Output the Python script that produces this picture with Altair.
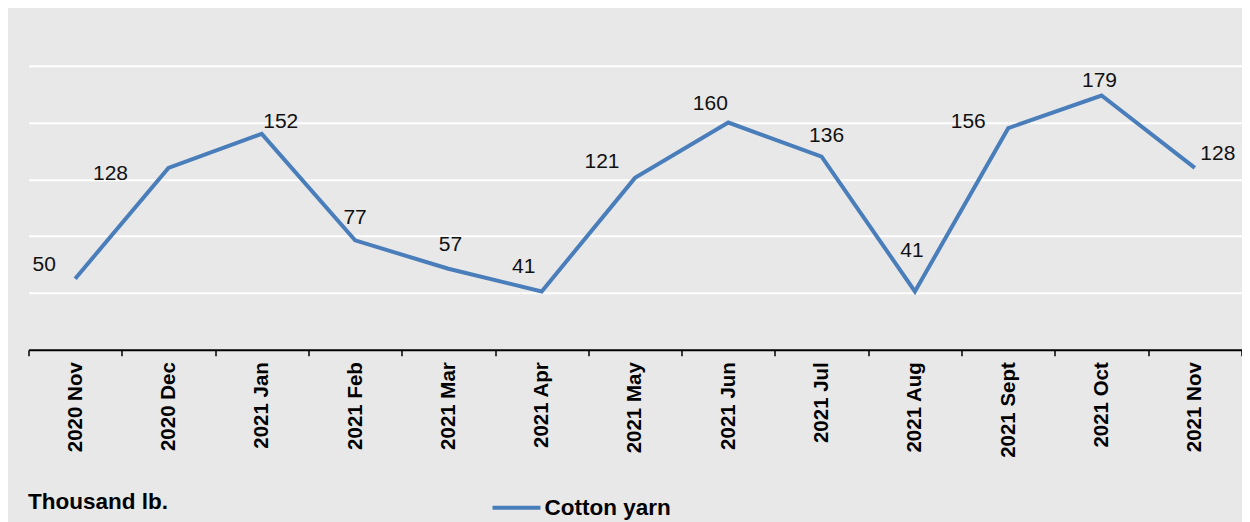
import altair as alt
import pandas as pd

months = ["2020 Nov", "2020 Dec", "2021 Jan", "2021 Feb", "2021 Mar", "2021 Apr",
          "2021 May", "2021 Jun", "2021 Jul", "2021 Aug", "2021 Sept", "2021 Oct", "2021 Nov"]
values = [50, 128, 152, 77, 57, 41, 121, 160, 136, 41, 156, 179, 128]
series_name = "Cotton yarn"
unit_label = "Thousand lb."
grid_values = [40, 80, 120, 160, 200]

# label placement (dx, dy) per month, as in the original
label_offsets = {
    "2020 Nov": (-31, -14), "2020 Dec": (-58, 6), "2021 Jan": (19, -12),
    "2021 Feb": (0, -22), "2021 Mar": (2, -24), "2021 Apr": (-18, -24),
    "2021 May": (-33, -16), "2021 Jun": (-18, -18), "2021 Jul": (5, -21),
    "2021 Aug": (-3, -40), "2021 Sept": (-40, -6), "2021 Oct": (-2, -15),
    "2021 Nov": (23, -14),
}

df = pd.DataFrame({"month": months, "value": values, "series": [series_name] * len(months)})

FONT = "Liberation Sans"
LINE_COLOR = "#4a7ebb"

x_enc = alt.X(
    "month:O", sort=months, bandPosition=0.5,
    scale=alt.Scale(type="band", paddingInner=0, paddingOuter=0),
    axis=alt.Axis(
        title=unit_label, titleAnchor="start", titleAlign="left", titleX=-1, titleY=152,
        titleBaseline="middle", titleFont=FONT, titleFontSize=22.5, titleFontWeight="bold",
        titleColor="black",
        labelAngle=270, labelFont=FONT, labelFontSize=20.5, labelFontWeight="bold",
        labelColor="black", labelPadding=6,
        tickBand="extent", tickColor="black", tickSize=6, tickWidth=1.5,
        domainColor="black", domainWidth=2, grid=False,
    ),
)
y_enc = alt.Y(
    "value:Q",
    scale=alt.Scale(domain=[0, 200], nice=False, zero=True),
    axis=alt.Axis(
        title=None, labels=False, ticks=False, domain=False, values=grid_values,
        grid=True, gridColor="white", gridWidth=2, gridOpacity=1,
    ),
)

base = alt.Chart(df)

line = base.mark_line(strokeWidth=4).encode(
    x=x_enc, y=y_enc,
    color=alt.Color(
        "series:N",
        scale=alt.Scale(domain=[series_name], range=[LINE_COLOR]),
        legend=alt.Legend(
            title=None, orient="none", legendX=462, legendY=416, padding=0,
            symbolType="stroke", symbolSize=2304, symbolStrokeWidth=4,
            labelFont=FONT, labelFontSize=22.5, labelFontWeight="bold", labelColor="black",
            labelOffset=2,
        ),
    ),
)

text_layers = []
for m in months:
    dx, dy = label_offsets[m]
    text_layers.append(
        base.transform_filter(alt.datum.month == m).mark_text(
            dx=dx, dy=dy, align="center", baseline="middle",
            font=FONT, fontSize=21, color="#111111",
        ).encode(x=x_enc, y=y_enc, text="value:Q")
    )

chart = alt.layer(line, *text_layers).properties(
    width=1213, height=284,
    autosize=alt.AutoSizeParams(type="none"),
    padding={"left": 20.5, "top": 57.7, "right": 0, "bottom": 172},
    background="#e8e8e8",
).configure_view(stroke=None)

chart.save("out.html", embed_options={"renderer": "svg", "actions": False})
